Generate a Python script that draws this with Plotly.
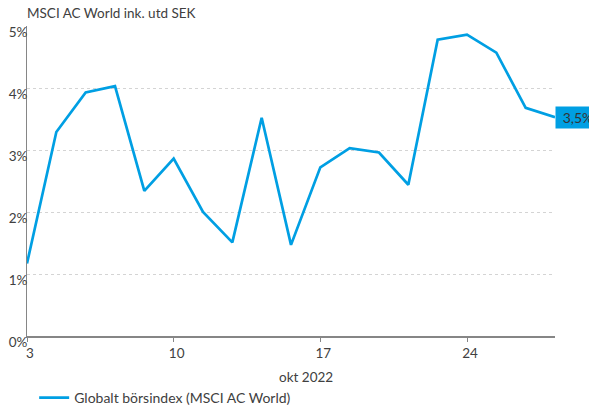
import plotly.graph_objects as go

days = ["3", "4", "5", "6", "7", "10", "11", "12", "13", "14",
        "17", "18", "19", "20", "21", "24", "25", "26", "27"]
values = [1.17, 3.29, 3.93, 4.03, 2.34, 2.86, 2.00, 1.51, 3.52, 1.47,
          2.72, 3.03, 2.96, 2.44, 4.78, 4.86, 4.57, 3.68, 3.53]
tick_days = ["3", "10", "17", "24"]
y_ticks = [0, 1, 2, 3, 4, 5]
y_ticktext = ["0%", "1%", "2%", "3%", "4%", "5%"]
series_name = "Globalt börsindex (MSCI AC World)"
title_text = "MSCI AC World ink. utd SEK"
xlabel_text = "okt 2022"
last_label = "3,5%"

BLUE = "#009FE3"
TXT = "#404040"
FONT = "Lato"

x_idx = list(range(len(days)))
tickvals = [days.index(d) for d in tick_days]

fig = go.Figure()
fig.add_trace(go.Scatter(
    x=x_idx, y=values, mode="lines", name=series_name,
    line=dict(color=BLUE, width=2.7), cliponaxis=False,
))

fig.update_layout(
    width=589, height=406,
    margin=dict(l=27, r=34, t=26, b=70, autoexpand=False),
    paper_bgcolor="white", plot_bgcolor="white",
    font=dict(family=FONT, size=13, color=TXT),
    showlegend=True,
    legend=dict(orientation="h", xref="container", yref="paper",
                x=0.058, y=(336 - 398) / 310, xanchor="left", yanchor="middle",
                font=dict(size=14, color=TXT), itemwidth=30,
                bgcolor="rgba(0,0,0,0)"),
    title=dict(text=title_text, x=27/589, xanchor="left", xref="container",
               y=1 - 13/406, yanchor="middle", yref="container",
               font=dict(size=13.5, color=TXT, family=FONT)),
)

fig.update_xaxes(
    range=[0, 18], tickvals=tickvals, ticktext=tick_days,
    showgrid=False, zeroline=False,
    showline=True, linecolor="#868686", linewidth=2,
    ticks="outside", ticklen=4, tickcolor="#868686", tickwidth=1,
    tickfont=dict(size=13.5, color=TXT), ticklabelshift=3,
)
fig.update_yaxes(
    range=[0, 5], tickvals=y_ticks, ticktext=y_ticktext,
    showgrid=True, gridcolor="#d4d4d4", griddash="dot", gridwidth=1,
    zeroline=False, showline=True, linecolor="#868686", linewidth=1,
    ticks="", tickfont=dict(size=13.5, color=TXT),
    ticklabelshift=6, ticklabelstandoff=-4,
)

fig.add_annotation(
    x=18, y=values[-1], xref="x", yref="y", text=last_label,
    showarrow=False, xanchor="left", yanchor="middle",
    bgcolor=BLUE, font=dict(size=14, color="#333333"),
    borderpad=2, width=40, align="center",
)
fig.add_annotation(
    x=(306 - 27) / 528, y=(336 - 377) / 310, xref="paper", yref="paper",
    text=xlabel_text, showarrow=False, xanchor="center", yanchor="middle",
    font=dict(size=13.5, color=TXT),
)

fig.write_html("out.html")
